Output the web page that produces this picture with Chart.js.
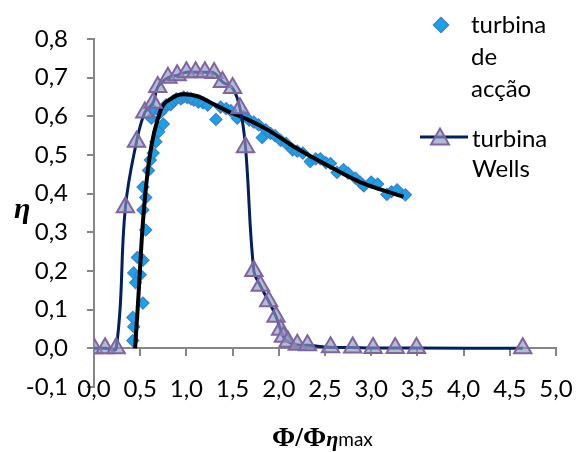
<!DOCTYPE html>
<html>
<head>
<meta charset="utf-8">
<script src="https://cdn.jsdelivr.net/npm/chart.js@4.4.0/dist/chart.umd.min.js"></script>
<style>
  body { margin: 0; background: #fff; }
  #wrap { position: relative; width: 583px; height: 452px; font-family: Lato, sans-serif; }
  canvas { position: absolute; left: 0; top: 0; }
  .txt { position: absolute; color: #000; white-space: nowrap; }
  .leg { font-size: 24px; }
  .serif { font-family: "Liberation Serif", serif; font-weight: bold; }
</style>
</head>
<body>
<div id="wrap">
  <canvas id="grafico" width="583" height="452"></canvas>

  <!-- leyenda -->
  <svg class="txt" style="left:430px;top:14px" width="24" height="24">
    <polygon points="11,3.5 18.5,11 11,18.5 3.5,11" fill="#17a3ec" stroke="#3d7fc6" stroke-width="1.5"/>
  </svg>
  <div class="txt leg" style="left:471px;top:8px;line-height:32px">turbina<br>de<br>acção</div>

  <svg class="txt" style="left:418px;top:126px" width="52" height="24">
    <line x1="2" y1="11" x2="50" y2="11" stroke="#002060" stroke-width="3"/>
    <polygon points="22,2.5 31,18.5 13,18.5" fill="rgba(140,150,190,0.65)" stroke="#8064a2" stroke-width="2"/>
  </svg>
  <div class="txt leg" style="left:472px;top:123px;line-height:30px">turbina<br>Wells</div>

  <!-- titulos de ejes -->
  <div class="txt serif" style="left:14px;top:193px;font-size:30px;line-height:30px;font-style:italic">η</div>
  <div class="txt" style="left:272px;top:422px;line-height:30px">
    <span class="serif" style="font-size:28px">Φ/Φ</span><span class="serif" style="font-size:22px;font-style:italic">η</span><span style="font-size:19px">max</span>
  </div>
</div>

<script>
// turbina de acción (rombos)
const accaoX = [0.42, 0.43, 0.42, 0.53, 0.45, 0.43, 0.50, 0.53, 0.47, 0.56, 0.53, 0.56, 0.53, 0.59, 0.61,
  0.64, 0.67, 0.70, 0.75, 0.62, 0.64, 0.72, 0.76, 0.78, 0.83, 0.86, 0.89, 0.94, 0.97, 1.01, 1.05,
  1.08, 1.13, 1.18, 1.23, 1.32, 1.37, 1.43, 1.48, 1.55, 1.62, 1.68, 1.73, 1.78, 1.82, 1.86, 1.91, 1.96,
  2.02, 2.08, 2.15, 2.20, 2.26, 2.34, 2.40, 2.45, 2.51, 2.56, 2.63, 2.70, 2.75, 2.83, 2.88, 2.92, 3.00,
  3.07, 3.17, 3.22, 3.28, 3.37];
const accaoY = [0.02, 0.056, 0.08, 0.117, 0.17, 0.195, 0.19, 0.228, 0.235, 0.306, 0.358, 0.39, 0.417, 0.46, 0.487,
  0.505, 0.534, 0.56, 0.58, 0.595, 0.616, 0.61, 0.62, 0.63, 0.63, 0.64, 0.645, 0.645, 0.65, 0.648, 0.645,
  0.642, 0.637, 0.635, 0.629, 0.592, 0.624, 0.62, 0.615, 0.595, 0.60, 0.59, 0.585, 0.578, 0.545, 0.565, 0.556, 0.55,
  0.538, 0.53, 0.513, 0.51, 0.505, 0.483, 0.49, 0.49, 0.48, 0.478, 0.455, 0.462, 0.453, 0.44, 0.43, 0.42, 0.43,
  0.425, 0.398, 0.405, 0.41, 0.397];

// curva de tendencia (negra)
const tendX = [0.445, 0.483, 0.526, 0.597, 0.72, 0.83, 0.97, 1.12, 1.30, 1.48, 1.66, 1.88, 2.16, 2.52, 2.88, 3.35];
const tendY = [0.0, 0.143, 0.315, 0.487, 0.615, 0.645, 0.657, 0.652, 0.631, 0.610, 0.592, 0.565, 0.522, 0.474, 0.43, 0.392];

// turbina Wells (triangulos)
const wellsX = [0, 0.12, 0.24, 0.34, 0.46, 0.55, 0.64, 0.69, 0.80, 0.90, 1.00, 1.10, 1.20, 1.30, 1.39, 1.50, 1.58,
  1.64, 1.73, 1.80, 1.89, 1.97, 2.02, 2.05, 2.10, 2.20, 2.31, 2.56, 2.80, 3.02, 3.26, 3.49, 4.64];
const wellsY = [0, 0, 0, 0.365, 0.534, 0.61, 0.635, 0.676, 0.70, 0.706, 0.714, 0.714, 0.714, 0.712, 0.689, 0.673, 0.621,
  0.52, 0.2, 0.162, 0.122, 0.082, 0.048, 0.03, 0.017, 0.009, 0.008, 0.003, 0.002, 0.001, 0.001, 0.001, 0.0];

// ejes
const xMin = 0, xMax = 5, xPaso = 0.5;
const yMin = -0.1, yMax = 0.8, yPaso = 0.1;

const puntos = (xs, ys) => xs.map((x, i) => ({x: x, y: ys[i]}));
const coma = v => Number(v).toFixed(1).replace('.', ',');
const gris = '#868686';

new Chart(document.getElementById('grafico').getContext('2d'), {
  type: 'scatter',
  data: {
    datasets: [
      {
        label: 'turbina Wells',
        data: puntos(wellsX, wellsY),
        showLine: true,
        borderColor: '#002060',
        borderWidth: 3,
        tension: 0.4,
        pointStyle: 'triangle',
        pointRadius: 10,
        pointBackgroundColor: 'rgba(140,150,190,0.65)',
        pointBorderColor: '#8064a2',
        pointBorderWidth: 2,
        order: 1
      },
      {
        label: 'tendencia',
        data: puntos(tendX, tendY),
        showLine: true,
        borderColor: '#000000',
        borderWidth: 4,
        cubicInterpolationMode: 'monotone',
        pointRadius: 0,
        order: 2
      },
      {
        label: 'turbina de acção',
        data: puntos(accaoX, accaoY),
        showLine: false,
        pointStyle: 'rectRot',
        pointRadius: 6,
        pointBackgroundColor: '#17a3ec',
        pointBorderColor: '#3d7fc6',
        pointBorderWidth: 1.2,
        order: 3
      }
    ]
  },
  options: {
    responsive: false,
    animation: false,
    devicePixelRatio: 1,
    layout: { padding: { top: 39, right: 27, left: 0, bottom: 65 } },
    plugins: { legend: { display: false }, tooltip: { enabled: false } },
    scales: {
      x: {
        type: 'linear', min: xMin, max: xMax,
        position: { y: 0 },
        ticks: { display: false, stepSize: xPaso },
        grid: { drawOnChartArea: false, color: gris, lineWidth: 2, tickLength: 7 },
        border: { color: gris, width: 2 }
      },
      // etiquetas del eje x, abajo del todo
      xb: {
        type: 'linear', min: xMin, max: xMax,
        position: { y: yMin },
        grid: { display: false, drawTicks: false },
        border: { display: false },
        ticks: { stepSize: xPaso, padding: -12, color: '#000', font: { family: 'Lato', size: 24 }, callback: coma, maxRotation: 0 }
      },
      y: {
        type: 'linear', min: yMin, max: yMax,
        position: 'left',
        ticks: { stepSize: yPaso, padding: 19, color: '#000', font: { family: 'Lato', size: 24 }, callback: coma },
        grid: { drawOnChartArea: false, color: gris, lineWidth: 2, tickLength: 7 },
        border: { color: gris, width: 2 },
        afterFit: s => { s.width = 94; }
      }
    }
  }
});
</script>
</body>
</html>
